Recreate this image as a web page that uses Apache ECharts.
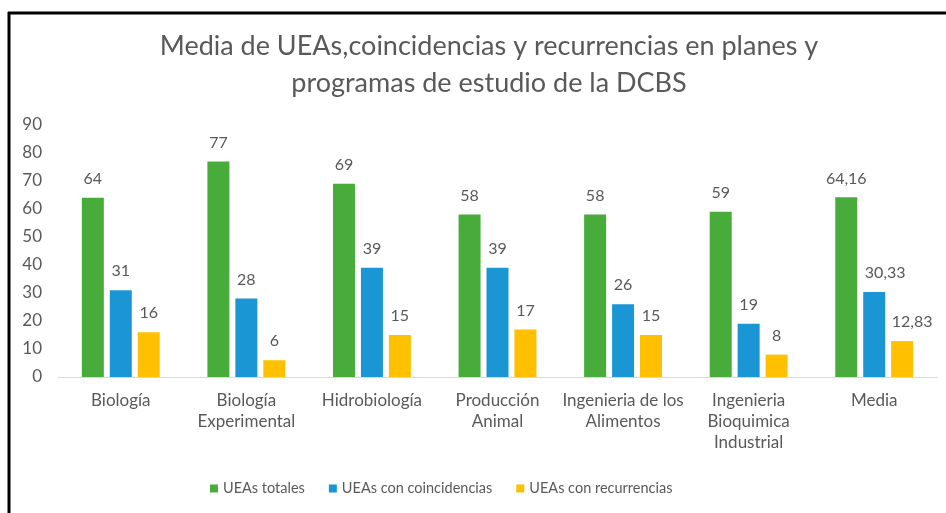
<!DOCTYPE html>
<html>
<head>
<meta charset="utf-8">
<script src="https://cdn.jsdelivr.net/npm/echarts@6/dist/echarts.min.js"></script>
<style>
  html, body { margin: 0; padding: 0; background: #fff; }
  #main { width: 946px; height: 513px; }
</style>
</head>
<body>
<div id="main"></div>
<script>
var categories = ['Biología', 'Biología\nExperimental', 'Hidrobiología', 'Producción\nAnimal',
                  'Ingenieria de los\nAlimentos', 'Ingenieria\nBioquimica\nIndustrial', 'Media'];
var totales = [64, 77, 69, 58, 58, 59, 64.16];
var coincidencias = [31, 28, 39, 39, 26, 19, 30.33];
var recurrencias = [16, 6, 15, 17, 15, 8, 12.83];
var seriesNames = ['UEAs totales', 'UEAs con coincidencias', 'UEAs con recurrencias'];

var font = 'Lato';
var grey = '#595959';

// etiquetas con coma decimal
function labelFmt(p) {
	return String(p.value).replace('.', ',');
}

// en "Media" las etiquetas con decimales van corridas a la derecha
function barData(arr, shift) {
	return arr.map(function (v, i) {
		if (i === arr.length - 1 && shift) {
			return { value: v, label: { offset: [shift, 0] } };
		}
		return v;
	});
}

function barSeries(name, data, color, shift) {
	return {
		name: name,
		type: 'bar',
		barWidth: 22,
		barGap: '27%',
		itemStyle: { color: color },
		label: {
			show: true,
			position: 'top',
			distance: 11,
			color: grey,
			fontFamily: font,
			fontSize: 16,
			formatter: labelFmt
		},
		data: barData(data, shift)
	};
}

var chart = echarts.init(document.getElementById('main'));
var option = {
	backgroundColor: '#fff',
	animation: false,
	title: {
		text: 'Media de UEAs,coincidencias y recurrencias en planes y\nprogramas de estudio de la DCBS',
		left: 484,
		top: 23,
		textAlign: 'center',
		textStyle: {
			color: grey,
			fontFamily: font,
			fontWeight: 'normal',
			fontSize: 27,
			lineHeight: 37
		}
	},
	legend: {
		data: seriesNames,
		bottom: 12,
		left: 205,
		itemWidth: 8,
		itemHeight: 8,
		itemGap: 24,
		icon: 'rect',
		textStyle: { color: grey, fontFamily: font, fontSize: 14.5 }
	},
	grid: { left: 58, right: 9, top: 125, bottom: 136, containLabel: false },
	xAxis: {
		type: 'category',
		data: categories,
		axisLine: { lineStyle: { color: '#d9d9d9', width: 1 } },
		axisTick: { show: false },
		axisLabel: {
			color: grey, fontFamily: font, fontSize: 17, lineHeight: 21,
			margin: 13, interval: 0
		}
	},
	yAxis: {
		type: 'value',
		min: 0,
		max: 90,
		interval: 10,
		splitLine: { show: false },
		axisLine: { show: false },
		axisTick: { show: false },
		axisLabel: { color: grey, fontFamily: font, fontSize: 17, margin: 16 }
	},
	graphic: [
		{ type: 'line', shape: { x1: 8, y1: 13, x2: 946, y2: 13 }, style: { stroke: '#000', lineWidth: 3 } },
		{ type: 'line', shape: { x1: 9, y1: 12, x2: 9, y2: 513 }, style: { stroke: '#000', lineWidth: 3 } }
	],
	series: [
		barSeries(seriesNames[0], totales, '#48ac3b', 0),
		barSeries(seriesNames[1], coincidencias, '#1b96d5', 11),
		barSeries(seriesNames[2], recurrencias, '#ffc000', 10)
	]
};
chart.setOption(option);
</script>
</body>
</html>
